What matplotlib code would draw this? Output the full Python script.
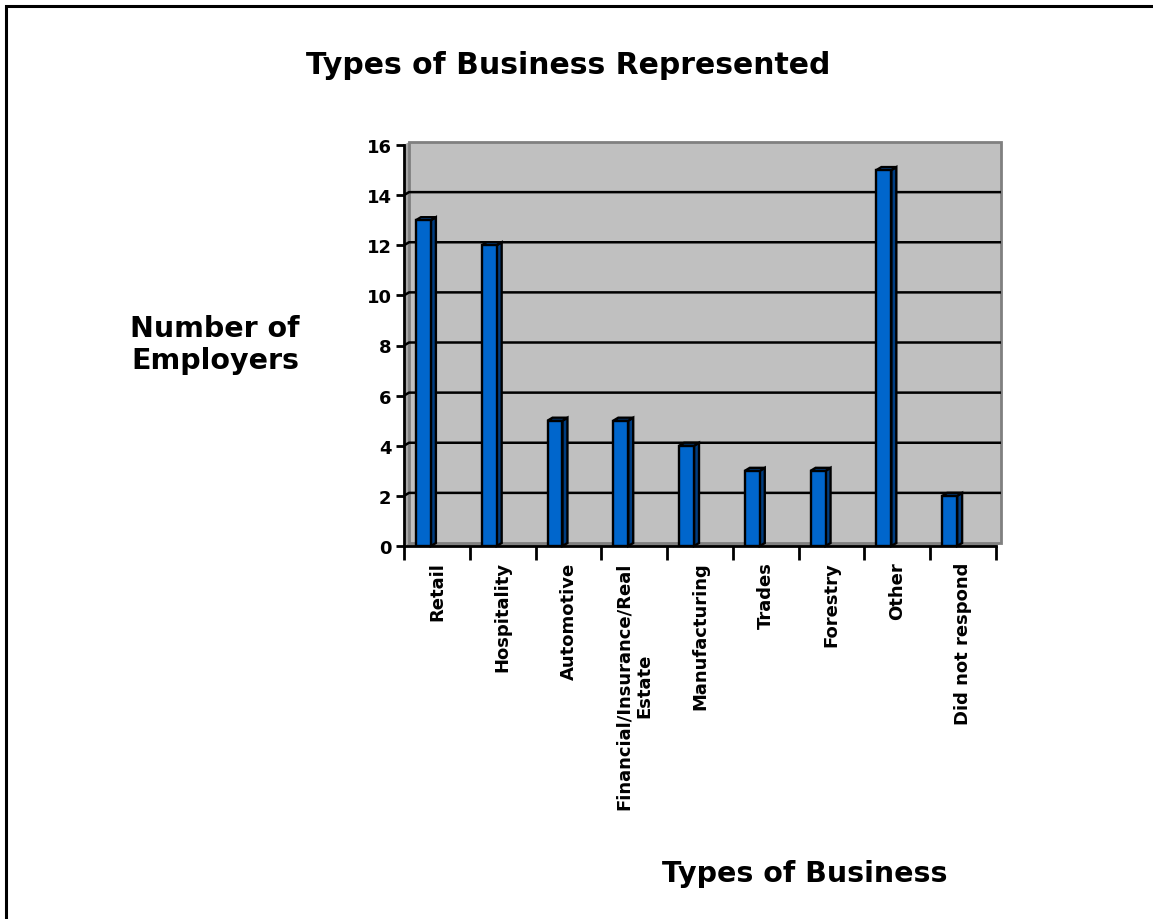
import matplotlib
matplotlib.use("Agg")
import matplotlib.pyplot as plt
from matplotlib.patches import Polygon, Rectangle

# chart data
categories = [
    "Retail",
    "Hospitality",
    "Automotive",
    "Financial/Insurance/Real\nEstate",
    "Manufacturing",
    "Trades",
    "Forestry",
    "Other",
    "Did not respond",
]
employers = [13, 12, 5, 5, 4, 3, 3, 15, 2]
y_ticks = [0, 2, 4, 6, 8, 10, 12, 14, 16]

W, H = 1153, 920
fig = plt.figure(figsize=(W / 100, H / 100), dpi=100)
fig.patch.set_facecolor("white")


def px(x0, y0, x1, y1):
    # pixel box (top-left origin) -> figure fraction rect
    return [x0 / W, 1 - y1 / H, (x1 - x0) / W, (y1 - y0) / H]


# outer frame (only left and top edges fall inside the image)
fig.patches.append(Rectangle((6 / W, -0.1), 1.2, 1 - 7 / H + 0.1,
                             transform=fig.transFigure, fill=False,
                             edgecolor="black", linewidth=2.2))

ax = fig.add_axes(px(404, 146, 996, 547))
n = len(categories)
ax.set_xlim(-0.5, n - 0.5)
ax.set_ylim(0, 16)
ax.set_facecolor("none")

# depth of the 3D effect in data units (~5 px right, ~3 px up)
dx = 5 / 66.0
dy = 3 / 25.1

x_lo, x_hi = -0.5, n - 0.5

# back wall, side wall and floor
ax.add_patch(Polygon([(x_lo, 0), (x_lo + dx, dy), (x_lo + dx, 16 + dy), (x_lo, 16)],
                     closed=True, facecolor="#a6a6a6", edgecolor="none", zorder=0.5,
                     clip_on=False))
ax.add_patch(Polygon([(x_lo, 0), (x_hi, 0), (x_hi + dx, dy), (x_lo + dx, dy)],
                     closed=True, facecolor="#8c8c8c", edgecolor="none", zorder=0.6,
                     clip_on=False))
ax.add_patch(Rectangle((x_lo + dx, dy), x_hi - x_lo, 16, facecolor="#c0c0c0",
                       edgecolor="#808080", linewidth=2.0, zorder=0.7, clip_on=False))

# gridlines on the wall
for v in y_ticks[1:-1]:
    ax.plot([x_lo, x_lo + dx, x_hi + dx], [v, v + dy, v + dy], color="black",
            linewidth=1.8, zorder=1, clip_on=False, solid_capstyle="butt")

# bars: front face via ax.bar, side and top as polygons
bw = 15 / 66.0
offset = -0.5 + 12 / 66.0 + bw / 2
xs = [i + offset for i in range(n)]
ax.bar(xs, employers, width=bw, color="#0066cc", edgecolor="black",
       linewidth=1.7, zorder=3)
for x, v in zip(xs, employers):
    l, r = x - bw / 2, x + bw / 2
    ax.add_patch(Polygon([(r, 0), (r + dx, dy), (r + dx, v + dy), (r, v)], closed=True,
                         facecolor="#003d80", edgecolor="black", linewidth=1.7,
                         zorder=2.9, clip_on=False))
    ax.add_patch(Polygon([(l, v), (r, v), (r + dx, v + dy), (l + dx, v + dy)], closed=True,
                         facecolor="#0052a8", edgecolor="black", linewidth=1.7,
                         zorder=2.9, clip_on=False))

# axes lines and ticks
for s in ["top", "right"]:
    ax.spines[s].set_visible(False)
for s in ["left", "bottom"]:
    ax.spines[s].set_linewidth(2.0)
    ax.spines[s].set_zorder(4)

ax.set_yticks(y_ticks)
ax.set_yticklabels([str(t) for t in y_ticks], fontsize=13, fontweight="bold")
ax.tick_params(axis="y", direction="out", length=6, width=2, pad=3)

ax.set_xticks([i - 0.5 for i in range(n + 1)])
ax.set_xticklabels([])
ax.tick_params(axis="x", which="major", direction="out", length=10, width=2)
ax.set_xticks(range(n), minor=True)
ax.set_xticklabels(categories, minor=True, rotation=90, fontsize=13,
                   fontweight="bold", ha="center", va="top", multialignment="center")
ax.tick_params(axis="x", which="minor", length=0, pad=11)

# titles
fig.text(568 / W, 1 - 66 / H, "Types of Business Represented", ha="center",
         va="center", fontsize=21.5, fontweight="bold")
fig.text(215 / W, 1 - 345 / H, "Number of\nEmployers", ha="center", va="center",
         fontsize=20.5, fontweight="bold", linespacing=1.15)
fig.text(805 / W, 1 - 874 / H, "Types of Business", ha="center", va="center",
         fontsize=20.5, fontweight="bold")

fig.savefig("out.png", dpi=100)
